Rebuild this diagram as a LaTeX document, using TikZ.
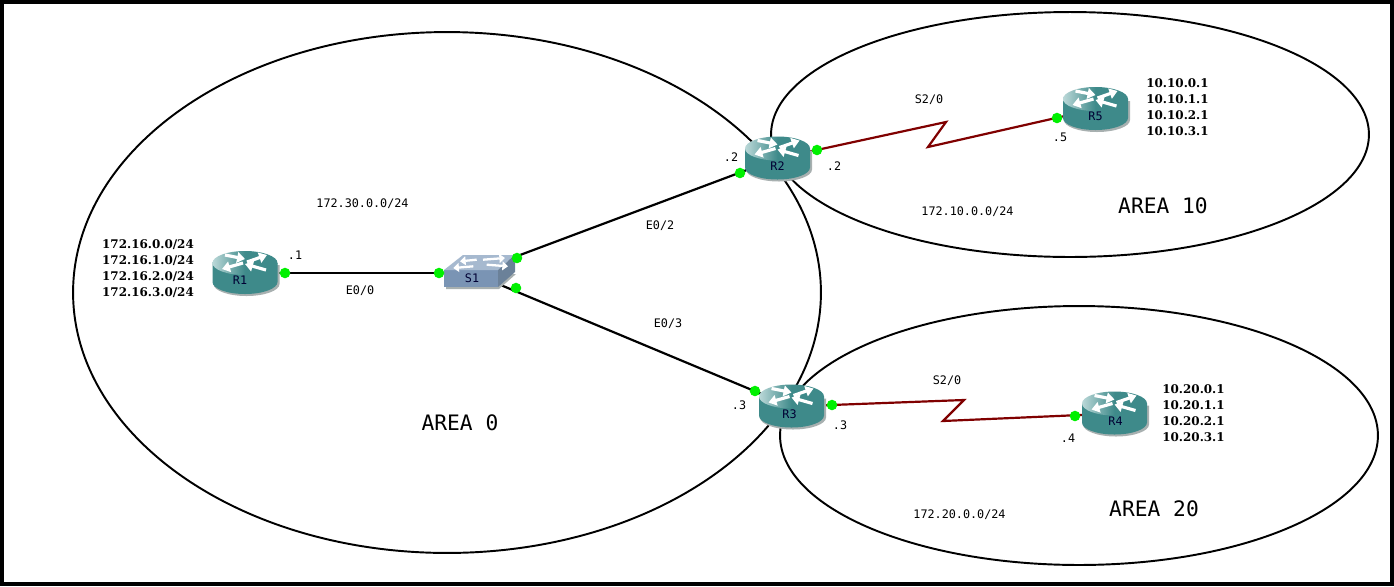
\documentclass[tikz,border=0pt]{standalone}
\usepackage{fontspec}
\setmainfont{DejaVu Serif}
\setmonofont{DejaVu Sans Mono}
\usetikzlibrary{shapes.geometric,arrows.meta}
\definecolor{routerteal}{HTML}{3E8A8A}
\definecolor{routerlight}{HTML}{BBD8D8}
\definecolor{routershade}{HTML}{A8B0B0}
\definecolor{switchfront}{HTML}{7A94B4}
\definecolor{switchtop}{HTML}{A6B9CF}
\definecolor{switchside}{HTML}{6B8199}
\definecolor{seriallink}{HTML}{800000}
\definecolor{portgreen}{HTML}{00F000}
\tikzset{
	area/.style={draw=black, line width=1.1pt, shape=ellipse, inner sep=0pt, fill=none},
	ethlink/.style={draw=black, line width=1.25pt},
	wanlink/.style={draw=seriallink, line width=1.25pt, line join=miter},
	port/.style={circle, fill=portgreen, inner sep=0pt, minimum size=6pt},
	iflabel/.style={font=\ttfamily\fontsize{6.7}{8}\selectfont, text=black, inner sep=0pt, yshift=-0.4pt},
	devlabel/.style={font=\ttfamily\fontsize{6.7}{8}\selectfont, text=black!80!blue, inner sep=0pt},
	arealabel/.style={font=\ttfamily\fontsize{12.1}{14}\selectfont, inner sep=0pt},
	netlist/.style={font=\bfseries\fontsize{6.8}{9.07}\selectfont, align=center, inner sep=0pt},
	whitearrow/.style={draw=white, line width=1.8pt, -{Triangle[length=4.5pt,width=6pt]}},
	smallarrow/.style={draw=white, line width=1.3pt, -{Triangle[length=3.2pt,width=5pt]}}
}
\begin{document}
\begin{tikzpicture}[x=0.02cm,y=-0.02cm]
	\useasboundingbox (0,0) rectangle (1394,586);
	\fill[white] (0,0) rectangle (1394,586);

	%Areas
	\node[area, minimum width=14.96cm, minimum height=10.42cm] (area0) at (447,292.5) {};
	\node[area, minimum width=11.96cm, minimum height=4.9cm] (area10) at (1070,134.5) {};
	\node[area, minimum width=11.96cm, minimum height=5.18cm] (area20) at (1079,435.5) {};

	%Devices
	\coordinate (r1) at (245,273);
	\coordinate (r2) at (777.5,158.5);
	\coordinate (r3) at (791.5,406.5);
	\coordinate (r4) at (1114.5,413.5);
	\coordinate (r5) at (1095.5,109);
	\coordinate (s1) at (472,273);

	%Serial bends
	\coordinate (bend_r2a) at (946,122);
	\coordinate (bend_r2b) at (928,147);
	\coordinate (bend_r3a) at (964,400);
	\coordinate (bend_r3b) at (943,421);

	%connections
	\draw[ethlink] (r1) -- (s1);
	\draw[ethlink] (s1) -- (r2);
	\draw[ethlink] (s1) -- (r3);
	\draw[wanlink] (r2) -- (bend_r2a) -- (bend_r2b) -- (r5);
	\draw[wanlink] (r3) -- (bend_r3a) -- (bend_r3b) -- (r4);

	%Routers
	\foreach \nm/\lbl/\x/\y/\dx in {r1/R1/245/273/-5, r2/R2/777.5/158.5/0, r3/R3/791.5/406.5/-2, r4/R4/1114.5/413.5/1, r5/R5/1095.5/109/0}{
		\begin{scope}[shift={(\x,\y)}]
			\fill[routershade] (-31.5,-8) -- (-31.5,11) arc[start angle=180,end angle=0,x radius=33,y radius=12] -- (34.5,-8) -- cycle;
			\fill[routerteal] (-32.5,-10) -- (-32.5,9) arc[start angle=180,end angle=0,x radius=32.5,y radius=12] -- (32.5,-10) -- cycle;
			\shade[left color=routerlight, right color=routerteal, middle color=routerteal] (0,-10) ellipse[x radius=32.5,y radius=12];
			\draw[whitearrow] (-20,-18) -- (0,-14);
			\draw[whitearrow] (2,-11) -- (22,-18);
			\draw[whitearrow] (-2,-10) -- (-23,-4);
			\draw[whitearrow] (21,-3) -- (0,-9);
			\node[devlabel] (\nm_lbl) at (\dx,7.5) {\lbl};
		\end{scope}
	}

	%Switch
	\begin{scope}[shift={(s1)}, yshift=0.02cm]
		\fill[routershade] (-26,2) -- (-26,17) -- (27,17) -- (44,2) -- cycle;
		\fill[switchfront] (-28,-2) rectangle (26,15);
		\fill[switchtop] (-28,-2) -- (-9,-17) -- (43,-17) -- (26,-2) -- cycle;
		\fill[switchside] (26,-2) -- (43,-17) -- (43,0) -- (26,15) -- cycle;
		\draw[smallarrow] (4.7,-12.3) -- (-12,-10.7);
		\draw[smallarrow] (11,-12.3) -- (33,-14);
		\draw[smallarrow] (1.3,-5.7) -- (-18.7,-4);
		\draw[smallarrow] (14.7,-7.3) -- (36,-5.7);
		\node[devlabel] (s1_lbl) at (0,6) {S1};
	\end{scope}

	%Ports
	\foreach \nm/\x/\y in {p_r1/285/273, p_s1a/439/273, p_s1b/517/258, p_s1c/516/288, p_r2a/740/173, p_r2b/817/150, p_r3a/755/391, p_r3b/832/405, p_r4/1075/416, p_r5/1057/118}{
		\node[port] (\nm) at (\x,\y) {};
	}

	%Interface labels
	\node[iflabel] (if_r1) at (295,254) {.1};
	\node[iflabel] (if_e00) at (360,290) {E0/0};
	\node[iflabel] (if_e02) at (660,225) {E0/2};
	\node[iflabel] (if_e03) at (668,323) {E0/3};
	\node[iflabel] (if_r2a) at (731,156) {.2};
	\node[iflabel] (if_r2b) at (834,165) {.2};
	\node[iflabel] (if_r3a) at (739,405) {.3};
	\node[iflabel] (if_r3b) at (840,425) {.3};
	\node[iflabel] (if_r4) at (1068,437) {.4};
	\node[iflabel] (if_r5) at (1060,137) {.5};
	\node[iflabel] (if_s20a) at (929,99) {S2/0};
	\node[iflabel] (if_s20b) at (947,379.5) {S2/0};

	%Networks
	\node[iflabel] (net_30) at (362.5,203) {172.30.0.0/24};
	\node[iflabel] (net_10) at (967.5,211) {172.10.0.0/24};
	\node[iflabel] (net_20) at (959.5,514) {172.20.0.0/24};
	\node[netlist] (lan_r1) at (148,268.5) {172.16.0.0/24\\172.16.1.0/24\\172.16.2.0/24\\172.16.3.0/24};
	\node[netlist] (lan_r5) at (1177.5,107.5) {10.10.0.1\\10.10.1.1\\10.10.2.1\\10.10.3.1};
	\node[netlist] (lan_r4) at (1193.5,413.5) {10.20.0.1\\10.20.1.1\\10.20.2.1\\10.20.3.1};

	%Area names
	\node[arealabel] (name_0) at (460,423) {AREA 0};
	\node[arealabel] (name_10) at (1163,206) {AREA 10};
	\node[arealabel] (name_20) at (1154,509) {AREA 20};

	%Frame
	\draw[line width=2.3pt] (2,2) rectangle (1392,584);
\end{tikzpicture}
\end{document}
